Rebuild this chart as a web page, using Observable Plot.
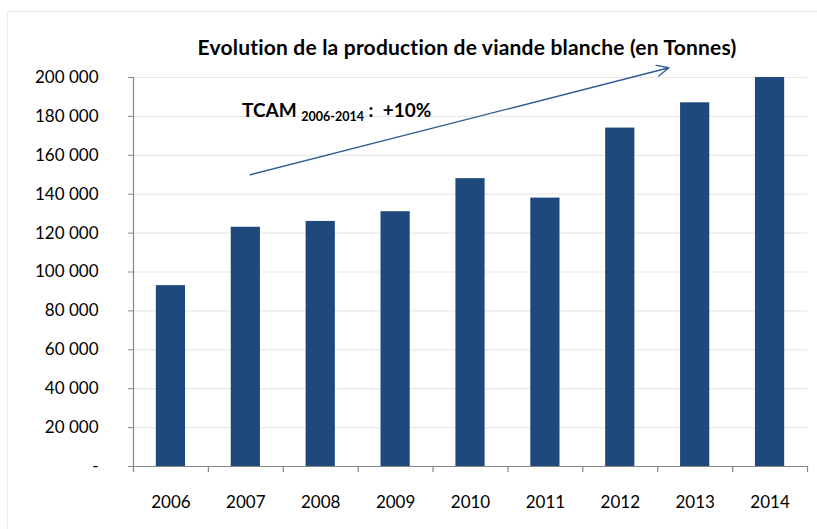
<!DOCTYPE html>
<html>
<head>
<meta charset="utf-8">
<script src="https://cdn.jsdelivr.net/npm/d3@7"></script>
<script src="https://cdn.jsdelivr.net/npm/@observablehq/plot@0.6"></script>
<style>
  html, body { margin: 0; padding: 0; background: #fff; }
  #wrap { position: relative; width: 817px; height: 529px; overflow: hidden; font-family: Lato, "Open Sans", sans-serif; }
  #frame { position: absolute; left: 7px; top: 11px; width: 820px; height: 530px; border-left: 1px solid #ececec; border-top: 1px solid #ececec; }
  #title { position: absolute; left: 0; width: 934px; top: 34px; text-align: center; font-weight: bold; font-size: 21px; color: #000; letter-spacing: 0.2px; white-space: nowrap; }
  #tcam { position: absolute; left: 242px; top: 98px; font-weight: bold; font-size: 19px; color: #000; white-space: nowrap; }
  #tcam sub { font-size: 12.5px; vertical-align: baseline; position: relative; top: 4px; }
  .layer { position: absolute; left: 0; top: 0; }
</style>
</head>
<body>
<div id="wrap">
  <div id="frame"></div>
  <div id="chart" class="layer"></div>
  <div id="overlay" class="layer"></div>
  <div id="title">Evolution de la production de viande blanche (en Tonnes)</div>
  <div id="tcam">TCAM <sub>2006-2014</sub> :&nbsp; +10%</div>
</div>
<script>
const years = ["2006", "2007", "2008", "2009", "2010", "2011", "2012", "2013", "2014"];
const production = [93000, 123000, 126000, 131000, 148000, 138000, 174000, 187000, 200000];
const yTicks = [0, 20000, 40000, 60000, 80000, 100000, 120000, 140000, 160000, 180000, 200000];
// Trend arrow annotation (x in category-index units, y in tonnes)
const arrowFrom = {x: 1.56, y: 150000};
const arrowTo = {x: 7.15, y: 205000};

const data = years.map((y, i) => ({year: y, value: production[i]}));
const fmt = v => v === 0 ? "-" : d3.format(",")(v).replace(/,/g, " ");

const W = 817, H = 529;
const margins = {marginLeft: 133, marginRight: 10, marginTop: 77, marginBottom: 63};
const fontFam = "Lato, 'Open Sans', sans-serif";

const chart = Plot.plot({
  width: W, height: H, ...margins,
  style: {fontFamily: fontFam, fontSize: "17px", color: "#000", background: "transparent"},
  x: {domain: years, paddingInner: 0.61, paddingOuter: 0.305, round: false, label: null},
  y: {domain: [0, 200000], label: null},
  marks: [
    Plot.gridY(yTicks, {stroke: "#e8e8e8", strokeOpacity: 1, strokeWidth: 1.2}),
    Plot.barY(data, {x: "year", y: "value", fill: "#1F497D"}),
    Plot.axisY({ticks: yTicks, tickFormat: fmt, tickSize: 5, tickPadding: 30, stroke: "#868686", fill: "#000", fontSize: 17}),
    Plot.axisX({tickSize: 0, tickPadding: 29, fill: "#000", fontSize: 17}),
    Plot.ruleY([0], {stroke: "#868686", strokeWidth: 1.2})
  ]
});
document.getElementById("chart").append(chart);

// Overlay: y axis line, category boundary ticks and trend arrow on a linear index scale
const boundaries = d3.range(0, years.length + 1);
const overlay = Plot.plot({
  width: W, height: H, ...margins,
  style: {background: "transparent"},
  x: {domain: [0, years.length]},
  y: {domain: [0, 200000]},
  marks: [
    Plot.axisX({ticks: boundaries, tickSize: 6, tickFormat: () => "", stroke: "#868686", strokeWidth: 1.2, label: null}),
    Plot.axisY({ticks: [], label: null}),
    Plot.ruleX([0], {stroke: "#868686", strokeWidth: 1.2}),
    Plot.arrow([{x1: arrowFrom.x, y1: arrowFrom.y, x2: arrowTo.x, y2: arrowTo.y}], {
      x1: "x1", y1: "y1", x2: "x2", y2: "y2", stroke: "#2E5C94", strokeWidth: 1.4, headLength: 14, headAngle: 50, bend: 0
    })
  ]
});
document.getElementById("overlay").append(overlay);
</script>
</body>
</html>
